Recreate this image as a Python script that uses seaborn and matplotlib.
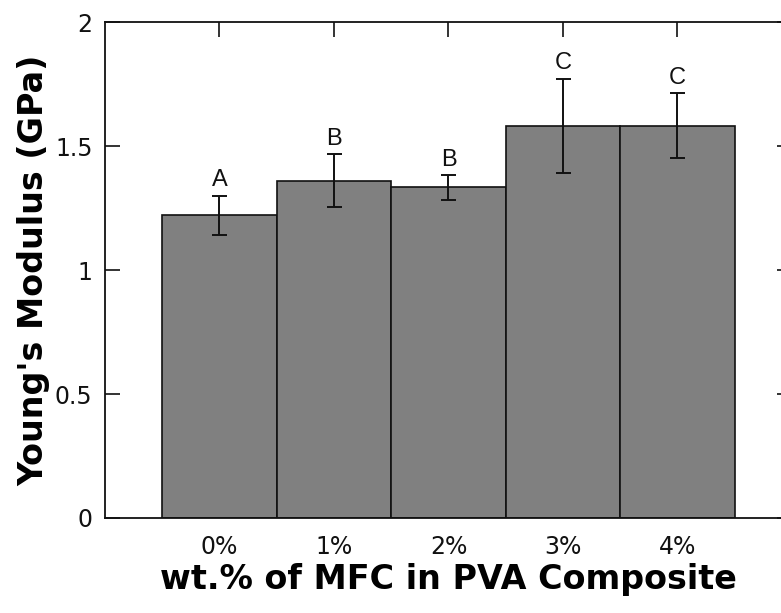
import numpy as np
import pandas as pd
import matplotlib
matplotlib.use('Agg')
import matplotlib.pyplot as plt
import seaborn as sns

##################################################################
loading = ['0%', '1%', '2%', '3%', '4%']
modulus = [1.22, 1.36, 1.333, 1.582, 1.582]
modulus_err = [0.08, 0.107, 0.05, 0.19, 0.13]
letters = ['A', 'B', 'B', 'C', 'C']
##################################################################

sns.set_style('ticks')
plt.rcParams['font.family'] = ['DejaVu Sans']

df = pd.DataFrame({'loading': loading, 'modulus': modulus, 'err': modulus_err})

fig = plt.figure(figsize=[7.81, 6.13], dpi=100)
ax = fig.add_axes([0.1344, 0.155, 0.8796, 0.809])

sns.barplot(data=df, x='loading', y='modulus', order=loading, color='#808080',
            saturation=1, width=1.0, edgecolor='#111111', linewidth=1.2, errorbar=None, ax=ax)
ax.errorbar(np.arange(len(loading)), df['modulus'], yerr=df['err'], fmt='none',
            ecolor='#111111', elinewidth=1.4, capsize=5.4, capthick=1.4)

for i, lab in enumerate(letters):
    ax.annotate(lab, (i, modulus[i] + modulus_err[i]), xytext=(0, 3), textcoords='offset points',
                ha='center', va='bottom', fontsize=17, family='Liberation Sans', color='#111111')

ax.set_xlim(-1, 5)
ax.set_ylim(0, 2)
ax.set_yticks([0, 0.5, 1, 1.5, 2])
ax.set_yticklabels(['0', '0.5', '1', '1.5', '2'])
ax.tick_params(direction='in', top=True, right=True, length=11, width=1.2, labelsize=17,
               colors='#111111')
ax.tick_params(axis='x', pad=12)
ax.tick_params(axis='y', pad=9)
for sp in ax.spines.values():
    sp.set_visible(True)
    sp.set_linewidth(1.3)
    sp.set_color('#111111')

ax.set_xlabel('wt.% of MFC in PVA Composite', fontsize=24, fontweight='bold', labelpad=3,
              color='black')
ax.set_ylabel("Young's Modulus (GPa)", fontsize=24, fontweight='bold', labelpad=3,
              color='black')

plt.savefig('out.png', dpi=100)
